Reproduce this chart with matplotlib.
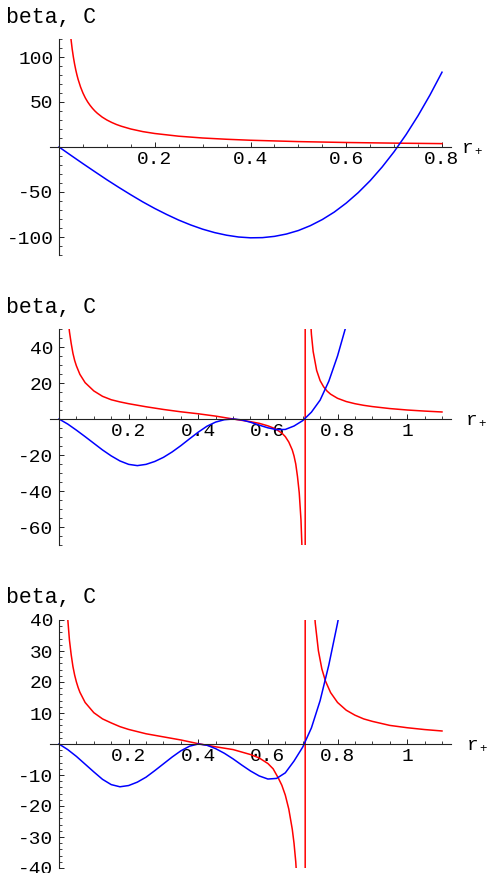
import matplotlib
matplotlib.use('Agg')
import matplotlib.pyplot as plt
from matplotlib.ticker import MultipleLocator, FixedLocator, FixedFormatter

plt.rcParams['font.family'] = ['Liberation Mono', 'DejaVu Sans Mono']
plt.rcParams['axes.unicode_minus'] = False

# ---------------- data ----------------
title_text = "beta, C"
xlabel_main = "r"
xlabel_sub = "+"

# panel 1
p1_blue_r = [0, 0.025, 0.05, 0.075, 0.1, 0.125, 0.15, 0.175, 0.2, 0.225, 0.25, 0.275,
             0.3, 0.325, 0.35, 0.375, 0.4, 0.425, 0.45, 0.475, 0.5, 0.525, 0.55, 0.575,
             0.6, 0.625, 0.65, 0.675, 0.7, 0.725, 0.75, 0.775, 0.8]
p1_blue_v = [0, -9.3, -18.5, -27.5, -36.4, -44.9, -53.1, -61.0, -68.3, -75.0, -81.2, -86.6,
             -91.3, -95.1, -98.0, -100.0, -100.9, -100.7, -99.3, -96.7, -92.8, -87.4, -80.6, -72.3,
             -62.3, -50.7, -37.4, -22.2, -5.2, 13.8, 34.8, 57.9, 83.1]
p1_red_r = [0.025, 0.0275, 0.03, 0.0325, 0.035, 0.0375, 0.04, 0.045, 0.05, 0.055, 0.06, 0.065,
            0.07, 0.075, 0.08, 0.09, 0.1, 0.11, 0.12, 0.13, 0.15, 0.175, 0.2, 0.25, 0.3,
            0.35, 0.4, 0.5, 0.6, 0.7, 0.8]
p1_red_v = [120, 109, 100, 92.3, 85.7, 80, 75, 66.7, 60, 54.5, 50, 46.2,
            42.9, 40, 37.5, 33.3, 30, 27.3, 25, 23.1, 20, 17.1, 15, 12, 10,
            8.6, 7.5, 6, 5, 4.3, 3.75]

# panel 2
p2_blue_r = [0, 0.025, 0.05, 0.075, 0.1, 0.125, 0.15, 0.175, 0.2, 0.225, 0.25, 0.275,
             0.3, 0.325, 0.35, 0.375, 0.4, 0.425, 0.45, 0.475, 0.5, 0.525, 0.55, 0.575,
             0.6, 0.625, 0.65, 0.675, 0.7, 0.725, 0.75, 0.775, 0.8, 0.825]
p2_blue_v = [0, -2.8, -6.2, -9.8, -13.5, -17.2, -20.5, -23.3, -25.2, -25.9, -25.2, -23.6,
             -21.3, -18.3, -14.8, -11.0, -7.3, -4.0, -1.7, -0.4, 0, -0.5, -1.8, -3.4,
             -4.9, -5.9, -5.8, -3.9, -0.9, 3.8, 10.5, 21.0, 35.0, 52.0]
p2_red_r = [0.025, 0.03, 0.035, 0.04, 0.045, 0.05, 0.06, 0.075, 0.1, 0.125, 0.15, 0.175,
            0.2, 0.25, 0.3, 0.35, 0.4, 0.45, 0.5, 0.55, 0.575, 0.6, 0.62, 0.64, 0.65,
            0.66, 0.67, 0.675, 0.68, 0.685, 0.69, 0.695, 0.698, 0.7, 0.703, 0.705, 0.7071,
            0.7071, 0.71, 0.715, 0.72, 0.725, 0.73, 0.74, 0.75, 0.76, 0.77, 0.78, 0.8,
            0.825, 0.85, 0.875, 0.9, 0.95, 1.0, 1.05, 1.1]
p2_red_v = [58, 48.5, 42, 36.5, 32.5, 29.5, 24.8, 20.2, 15.6, 12.6, 10.7, 9.5,
            8.5, 6.8, 5.3, 4.0, 2.9, 1.6, 0, -1.5, -2.4, -3.8, -5.3, -7.8, -9.8,
            -12.8, -17.2, -20.5, -25, -32, -41, -56, -72, -95, -160, -300, -3000,
            3000, 270, 102, 63, 47, 37.5, 27, 21.3, 17.9, 15.5, 13.8, 11.5,
            9.7, 8.5, 7.6, 6.9, 5.8, 5.0, 4.4, 3.9]

# panel 3
p3_blue_r = [0, 0.025, 0.05, 0.075, 0.1, 0.125, 0.15, 0.175, 0.2, 0.225, 0.25, 0.275,
             0.3, 0.325, 0.35, 0.375, 0.4, 0.425, 0.45, 0.475, 0.5, 0.525, 0.55, 0.575,
             0.6, 0.625, 0.65, 0.675, 0.7, 0.725, 0.75, 0.775, 0.8, 0.81]
p3_blue_v = [0, -1.8, -4.0, -6.5, -9.0, -11.4, -13.1, -13.8, -13.4, -12.3, -10.7, -8.6,
             -6.4, -4.2, -2.2, -0.7, 0, -0.4, -1.5, -3.0, -4.8, -6.8, -8.7, -10.3,
             -11.3, -11.1, -9.3, -5.5, -1.0, 5.2, 14.0, 25.5, 39.0, 45.0]
p3_red_r = [0.025, 0.03, 0.035, 0.04, 0.045, 0.05, 0.055, 0.06, 0.075, 0.1, 0.125, 0.15,
            0.175, 0.2, 0.25, 0.3, 0.35, 0.4, 0.45, 0.5, 0.55, 0.575, 0.6, 0.615, 0.63,
            0.64, 0.65, 0.66, 0.67, 0.675, 0.68, 0.685, 0.69, 0.695, 0.7, 0.703, 0.705,
            0.7071, 0.7071, 0.71, 0.715, 0.72, 0.725, 0.73, 0.736, 0.745, 0.755, 0.765,
            0.78, 0.8, 0.825, 0.85, 0.875, 0.9, 0.95, 1.0, 1.05, 1.1]
p3_red_v = [40.5, 33.5, 28.8, 25, 22.2, 20, 18.2, 16.7, 13.4, 10.1, 8.1, 6.8,
            5.6, 4.7, 3.3, 2.3, 1.3, 0.1, -0.9, -1.8, -3.4, -4.5, -6.3, -8.0, -11.0,
            -13.3, -16.5, -21, -27.5, -32, -38, -47, -60, -85, -130, -220, -400,
            -3000, 3000, 369, 136, 84, 61.4, 48.5, 39, 30.1, 24.2, 20.4,
            16.6, 13.4, 10.9, 9.3, 8.1, 7.3, 6.0, 5.25, 4.66, 4.2]

# tick values / labels
p1_xticks = [0.2, 0.4, 0.6, 0.8]
p1_xlabels = ["0.2", "0.4", "0.6", "0.8"]
p1_yticks = [-100, -50, 50, 100]
p1_ylabels = ["-100", "-50", "50", "100"]
p2_xticks = [0.2, 0.4, 0.6, 0.8, 1.0]
p2_xlabels = ["0.2", "0.4", "0.6", "0.8", "1"]
p2_yticks = [-60, -40, -20, 20, 40]
p2_ylabels = ["-60", "-40", "-20", "20", "40"]
p3_xticks = [0.2, 0.4, 0.6, 0.8, 1.0]
p3_xlabels = ["0.2", "0.4", "0.6", "0.8", "1"]
p3_yticks = [-40, -30, -20, -10, 10, 20, 30, 40]
p3_ylabels = ["-40", "-30", "-20", "-10", "10", "20", "30", "40"]

# ---------------- figure ----------------
W, H = 490, 873
fig = plt.figure(figsize=(W / 100, H / 100), dpi=100)

FS = 14
TFS = 15.5
BLUE = '#0000ff'
RED = '#ff0000'


def panel(top, bottom, xlim, ylim, xt, xl, yt, yl, xminor, yminor,
          blue_r, blue_v, red_r, red_v, title_base, rx, rbase):
    ax = fig.add_axes([50 / W, 1 - bottom / H, 401 / W, (bottom - top) / H])
    ax.set_xlim(*xlim)
    ax.set_ylim(*ylim)
    ax.patch.set_alpha(0)
    for s in ('top', 'right'):
        ax.spines[s].set_visible(False)
    for s in ('left', 'bottom'):
        ax.spines[s].set_position(('data', 0))
        ax.spines[s].set_linewidth(0.8)
        ax.spines[s].set_color('#222222')
    ax.xaxis.set_major_locator(FixedLocator(xt))
    ax.xaxis.set_major_formatter(FixedFormatter(xl))
    ax.yaxis.set_major_locator(FixedLocator(yt))
    ax.yaxis.set_major_formatter(FixedFormatter(yl))
    ax.xaxis.set_minor_locator(MultipleLocator(xminor))
    ax.yaxis.set_minor_locator(MultipleLocator(yminor))
    ax.tick_params(which='major', direction='in', length=3.5, width=0.7, color='#222222',
                   labelsize=FS)
    ax.tick_params(which='minor', direction='in', length=2, width=0.6, color='#222222')
    ax.tick_params(axis='x', which='major', pad=3)
    ax.tick_params(axis='y', which='major', pad=4)
    ax.plot(red_r, red_v, color=RED, lw=1.1, solid_joinstyle='round')
    ax.plot(blue_r, blue_v, color=BLUE, lw=1.1, solid_joinstyle='round')
    fig.text(6 / W, 1 - title_base / H, title_text, fontsize=TFS, va='baseline', ha='left')
    fig.text(rx / W, 1 - rbase / H, xlabel_main, fontsize=FS, va='baseline', ha='left')
    fig.text((rx + 12) / W, 1 - (rbase + 2) / H, xlabel_sub, fontsize=9,
             va='baseline', ha='left')
    return ax


panel(39, 255, (-0.0188, 0.8188), (-120, 120), p1_xticks, p1_xlabels, p1_yticks, p1_ylabels,
      0.05, 10, p1_blue_r, p1_blue_v, p1_red_r, p1_red_v, 23, 462, 153)
panel(329, 545, (-0.02585, 1.1259), (-70, 50), p2_xticks, p2_xlabels, p2_yticks, p2_ylabels,
      0.05, 5, p2_blue_r, p2_blue_v, p2_red_r, p2_red_v, 312.7, 466, 424.5)
panel(620, 868, (-0.02585, 1.1259), (-40, 40), p3_xticks, p3_xlabels, p3_yticks, p3_ylabels,
      0.05, 2, p3_blue_r, p3_blue_v, p3_red_r, p3_red_v, 602.7, 467, 750)

fig.savefig('out.png', dpi=100)
